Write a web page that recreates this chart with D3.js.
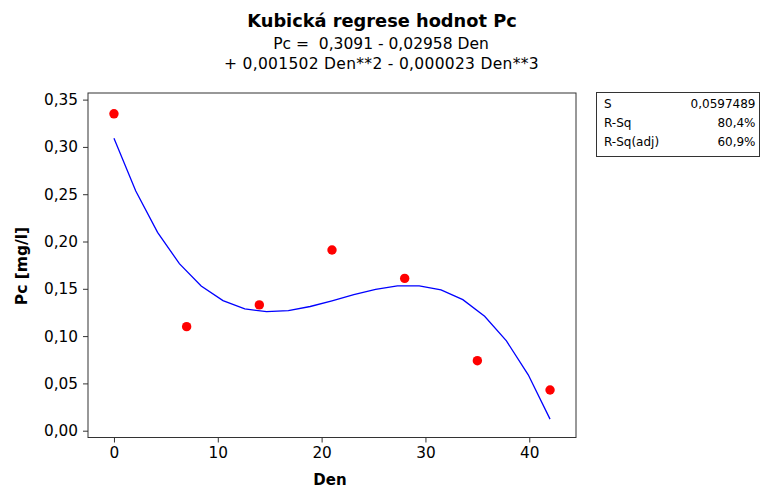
<!DOCTYPE html>
<html>
<head>
<meta charset="utf-8">
<script src="https://cdn.jsdelivr.net/npm/d3@7"></script>
<style>
  body { margin: 0; background: #fff; }
  svg text { font-family: "DejaVu Sans", Verdana, sans-serif; fill: #000; }
</style>
</head>
<body>
<div id="chart"></div>
<script>
// measured values (Den, Pc)
const days = [0, 7, 14, 21, 28, 35, 42];
const pcValues = [0.335, 0.110, 0.133, 0.191, 0.161, 0.074, 0.043];

// fitted cubic, read at the curve's vertices
const fitDays = [0, 2.1, 4.2, 6.3, 8.4, 10.5, 12.6, 14.7, 16.8, 18.9, 21, 23.1, 25.2, 27.3, 29.4, 31.5, 33.6, 35.7, 37.8, 39.9, 42];
const fitValues = [0.3091, 0.2534, 0.2097, 0.1766, 0.1530, 0.1375, 0.1288, 0.1258, 0.1270, 0.1313, 0.1373, 0.1438, 0.1494, 0.1530, 0.1532, 0.1488, 0.1385, 0.1209, 0.0949, 0.0591, 0.0122];

const xTicks = [0, 10, 20, 30, 40];
const yTicks = [0, 0.05, 0.10, 0.15, 0.20, 0.25, 0.30, 0.35];

const statLabels = ["S", "R-Sq", "R-Sq(adj)"];
const statValues = ["0,0597489", "80,4%", "60,9%"];

const width = 761, height = 488;
const plot = { left: 88, right: 576, top: 93, bottom: 437.5 };

const svg = d3.select("#chart").append("svg")
  .attr("width", width)
  .attr("height", height);

const x = d3.scaleLinear().domain([-2.5, 44.5]).range([plot.left, plot.right]);
const y = d3.scaleLinear().domain([-0.0072, 0.357]).range([plot.bottom, plot.top]);

const fmt = d => d3.format(".2f")(d).replace(".", ",");

// title
svg.append("text")
  .attr("x", 382).attr("y", 27)
  .attr("text-anchor", "middle")
  .style("font-size", "17.8px").style("font-weight", "bold")
  .text("Kubická regrese hodnot Pc");
svg.append("text")
  .attr("x", 381).attr("y", 49)
  .attr("text-anchor", "middle")
  .style("font-size", "15.5px")
  .attr("xml:space", "preserve")
  .text("Pc =  0,3091 - 0,02958 Den");
svg.append("text")
  .attr("x", 381.5).attr("y", 69)
  .attr("text-anchor", "middle")
  .style("font-size", "15.5px")
  .style("letter-spacing", "0.3px")
  .text("+ 0,001502 Den**2 - 0,000023 Den**3");

// axes
const xAxis = svg.append("g")
  .attr("transform", `translate(0,${plot.bottom})`)
  .call(d3.axisBottom(x).tickValues(xTicks).tickSize(5).tickPadding(5));
const yAxis = svg.append("g")
  .attr("transform", `translate(${plot.left},0)`)
  .call(d3.axisLeft(y).tickValues(yTicks).tickFormat(fmt).tickSize(5).tickPadding(5));

[xAxis, yAxis].forEach(g => {
  g.select(".domain").remove();
  g.selectAll("line").attr("stroke", "#333");
  g.selectAll("text").style("font-size", "15.3px").style("font-family", "'DejaVu Sans', Verdana, sans-serif");
});

// frame
svg.append("rect")
  .attr("x", plot.left).attr("y", plot.top)
  .attr("width", plot.right - plot.left)
  .attr("height", plot.bottom - plot.top)
  .attr("fill", "none")
  .attr("stroke", "#333");

// axis labels
svg.append("text")
  .attr("x", 330).attr("y", 485)
  .attr("text-anchor", "middle")
  .style("font-size", "15px").style("font-weight", "bold")
  .text("Den");
svg.append("text")
  .attr("transform", "translate(27,266) rotate(-90)")
  .attr("text-anchor", "middle")
  .style("font-size", "15.5px").style("font-weight", "bold")
  .text("Pc [mg/l]");

// fitted line
const line = d3.line()
  .x(d => x(d[0]))
  .y(d => y(d[1]));
svg.append("path")
  .datum(d3.zip(fitDays, fitValues))
  .attr("d", line)
  .attr("fill", "none")
  .attr("stroke", "#0000ff")
  .attr("stroke-width", 1.3);

// points
svg.selectAll("circle.pt")
  .data(d3.zip(days, pcValues))
  .enter()
  .append("circle")
  .attr("class", "pt")
  .attr("cx", d => x(d[0]))
  .attr("cy", d => y(d[1]))
  .attr("r", 4.7)
  .attr("fill", "#ff0000");

// stats box
const box = svg.append("g");
box.append("rect")
  .attr("x", 596.5).attr("y", 92.5)
  .attr("width", 163).attr("height", 64)
  .attr("fill", "none")
  .attr("stroke", "#333");
statLabels.forEach((lab, i) => {
  box.append("text")
    .attr("x", 604).attr("y", 108 + i * 19)
    .style("font-size", "12px")
    .text(lab);
  box.append("text")
    .attr("x", 755.5).attr("y", 108 + i * 19)
    .attr("text-anchor", "end")
    .style("font-size", "12px")
    .text(statValues[i]);
});
</script>
</body>
</html>
